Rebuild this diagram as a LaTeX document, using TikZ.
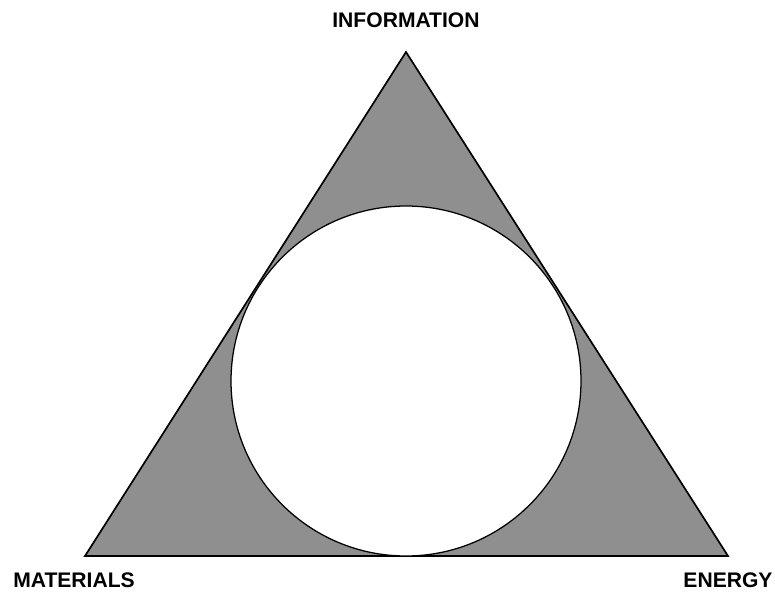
\documentclass[tikz,border=0pt]{standalone}
\usepackage{fontspec}
\setmainfont{Liberation Sans}
\usepackage{tikz}
\usetikzlibrary{positioning, calc}
\definecolor{shade}{gray}{0.56}

\begin{document}
\begin{tikzpicture}[
  x=0.025cm, y=-0.025cm,
  font=\fontsize{15}{17}\selectfont\bfseries,
  % Styles
  region/.style = {draw=black, line width=1.2pt, fill=shade, line join=miter},
  core/.style   = {circle, draw=black, line width=0.9pt, fill=white,
                   minimum size=350*0.025cm, inner sep=0pt},
  vlabel/.style = {inner sep=0pt, text=black}
]
\useasboundingbox (0,0) rectangle (775,592);

% =========================== TRIANGLE ===========================
\coordinate (Top)   at (406, 52);
\coordinate (Left)  at (85, 556);
\coordinate (Right) at (728, 556);
\draw[region] (Top) -- (Left) -- (Right) -- cycle;

% =========================== INCIRCLE ===========================
\node[core] (C) at (406, 381) {};

% =========================== LABELS ===========================
\node[vlabel] (Info) at (406, 20)  {INFORMATION};
\node[vlabel] (Mat)  at (74, 580)  {MATERIALS};
\node[vlabel] (En)   at (728, 580) {ENERGY};

\end{tikzpicture}
\end{document}
